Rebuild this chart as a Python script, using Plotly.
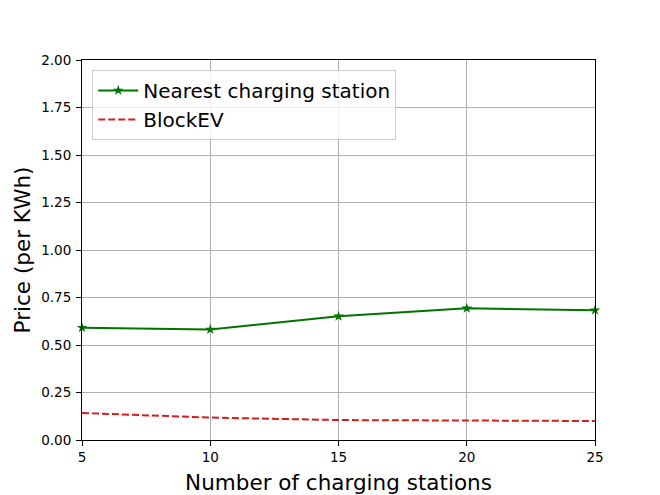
import plotly.graph_objects as go

# data
stations = [5, 10, 15, 20, 25]
nearest_price = [0.591, 0.582, 0.651, 0.693, 0.683]
blockev_price = [0.142, 0.118, 0.105, 0.103, 0.100]

fig = go.Figure()

fig.add_trace(go.Scatter(
    x=stations, y=nearest_price,
    mode="lines+markers",
    name="Nearest charging station",
    line=dict(color="#007400", width=2),
    marker=dict(symbol="star", size=8, color="#007400"),
    cliponaxis=False
))

fig.add_trace(go.Scatter(
    x=stations, y=blockev_price,
    mode="lines",
    name="BlockEV",
    line=dict(color="#d21e1e", width=2, dash="7px,3px")
))

axis_style = dict(
    showline=True, linecolor="black", linewidth=1, mirror=True,
    ticks="outside", ticklen=5, tickcolor="black",
    showgrid=True, gridcolor="#b0b0b0", gridwidth=1,
    zeroline=False,
    tickfont=dict(size=13.5, color="black"),
)

# page body has an 8px margin, so the margins are trimmed to match
fig.update_layout(
    width=660, height=495,
    margin=dict(l=74, r=73, t=52, b=63),
    paper_bgcolor="white", plot_bgcolor="white",
    font=dict(family="DejaVu Sans", color="black"),
    showlegend=True,
    legend=dict(
        x=0.02, y=0.974, xanchor="left", yanchor="top",
        bgcolor="rgba(255,255,255,0.8)",
        bordercolor="#cccccc", borderwidth=1,
        font=dict(size=20),
        itemwidth=40,
    ),
)

fig.update_xaxes(
    range=[5, 25], tickvals=[5, 10, 15, 20, 25],
    title=dict(text="Number of charging stations", font=dict(size=21.5), standoff=10),
    **axis_style
)
fig.update_yaxes(
    range=[0, 2], tickvals=[0, 0.25, 0.5, 0.75, 1.0, 1.25, 1.5, 1.75, 2.0],
    tickformat=".2f", ticklabelstandoff=2,
    title=dict(text="Price (per KWh)", font=dict(size=21.5), standoff=4),
    **axis_style
)

fig.write_html("out.html")
